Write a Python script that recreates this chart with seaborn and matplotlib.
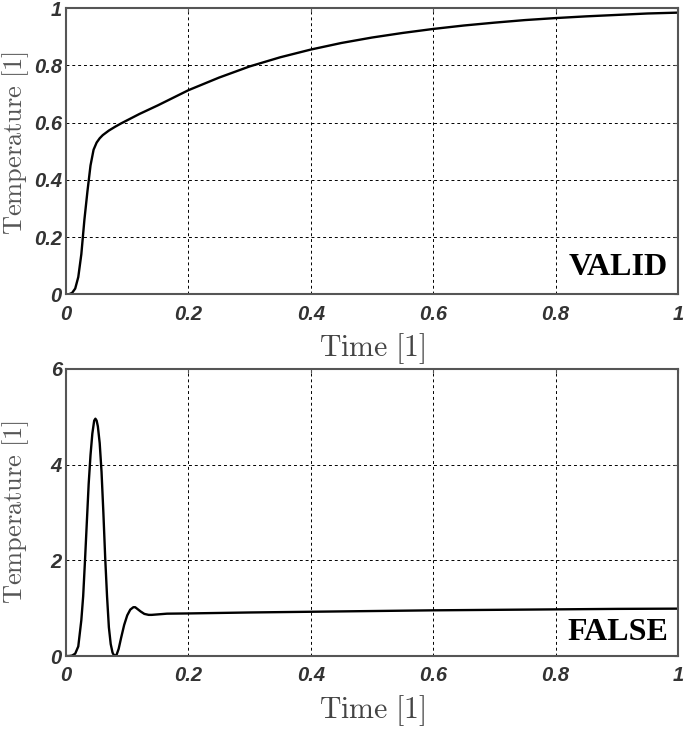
import numpy as np
import pandas as pd
import seaborn as sns
import matplotlib.pyplot as plt

# valores
t_valid = [0, 0.005, 0.01, 0.015, 0.02, 0.025, 0.03, 0.035, 0.04, 0.045, 0.05, 0.055,
           0.06, 0.07, 0.08, 0.09, 0.1, 0.12, 0.15, 0.2, 0.25, 0.3, 0.35, 0.4, 0.45,
           0.5, 0.55, 0.6, 0.65, 0.7, 0.75, 0.8, 0.85, 0.9, 0.95, 1.0]
temp_valid = [0, 0.0, 0.005, 0.02, 0.06, 0.14, 0.26, 0.36, 0.45, 0.505, 0.53, 0.545,
              0.556, 0.572, 0.585, 0.597, 0.608, 0.63, 0.66, 0.713, 0.757, 0.796, 0.828,
              0.855, 0.878, 0.897, 0.913, 0.927, 0.939, 0.949, 0.958, 0.965, 0.971,
              0.976, 0.981, 0.984]

t_false = [0, 0.005, 0.01, 0.015, 0.02, 0.025, 0.028, 0.031, 0.034, 0.037, 0.04, 0.043,
           0.046, 0.048, 0.05, 0.052, 0.055, 0.058, 0.061, 0.064, 0.067, 0.07, 0.073,
           0.076, 0.079, 0.081, 0.083, 0.086, 0.09, 0.095, 0.1, 0.105, 0.11, 0.113,
           0.117, 0.122, 0.128, 0.135, 0.14, 0.15, 0.165, 0.2, 0.3, 0.4, 0.5, 0.6,
           0.7, 0.8, 0.9, 1.0]
temp_false = [0, 0, 0.01, 0.05, 0.2, 0.75, 1.25, 2.0, 2.8, 3.6, 4.2, 4.65, 4.92, 4.96,
              4.92, 4.8, 4.45, 3.85, 3.0, 2.05, 1.25, 0.6, 0.25, 0.07, 0.0, 0.0, 0.04,
              0.15, 0.38, 0.65, 0.85, 0.97, 1.02, 1.02, 0.98, 0.93, 0.88, 0.86, 0.86,
              0.87, 0.885, 0.89, 0.91, 0.925, 0.94, 0.955, 0.965, 0.975, 0.985, 0.99]

x_ticks = [0, 0.2, 0.4, 0.6, 0.8, 1]
x_labels = ["0", "0.2", "0.4", "0.6", "0.8", "1"]
y_ticks_valid = [0, 0.2, 0.4, 0.6, 0.8, 1]
y_labels_valid = ["0", "0.2", "0.4", "0.6", "0.8", "1"]
y_ticks_false = [0, 2, 4, 6]
y_labels_false = ["0", "2", "4", "6"]

sns.set_style("white")
plt.rcParams['mathtext.fontset'] = 'cm'

fig = plt.figure(figsize=(6.85, 7.32), dpi=100)
ax1 = fig.add_axes([0.0964, 0.598, 0.8934, 0.391])
ax2 = fig.add_axes([0.0964, 0.1038, 0.8934, 0.3922])

df_v = pd.DataFrame({"t": t_valid, "T": temp_valid})
df_f = pd.DataFrame({"t": t_false, "T": temp_false})

paineis = [
    (ax1, df_v, y_ticks_valid, y_labels_valid, (0, 1), "VALID", 0.066, 0.53),
    (ax2, df_f, y_ticks_false, y_labels_false, (0, 6), "FALSE", 0.056, 0.5),
]

for ax, df, yt, yl, ylim, rotulo, ypos, ylab_y in paineis:
    sns.lineplot(data=df, x="t", y="T", ax=ax, color="black", linewidth=1.7,
                 sort=False, errorbar=None)
    ax.set_xlim(0, 1)
    ax.set_ylim(*ylim)
    ax.set_xticks(x_ticks)
    ax.set_xticklabels(x_labels, fontsize=14.5, fontweight="bold", fontstyle="italic",
                       family="Liberation Sans", color="#333333")
    ax.set_yticks(yt)
    ax.set_yticklabels(yl, fontsize=14.5, fontweight="bold", fontstyle="italic",
                       family="Liberation Sans", color="#333333")
    ax.grid(True, color="black", linestyle=(0, (3, 3)), linewidth=0.7)
    ax.tick_params(direction="in", length=3, width=0.8, color="#555555",
                   top=True, right=True)
    ax.tick_params(axis="x", pad=7.5)
    ax.tick_params(axis="y", pad=3)
    for s in ax.spines.values():
        s.set_visible(True)
        s.set_color("#555555")
        s.set_linewidth(1.5)
    ax.set_xlabel(r"$\mathrm{Time\ [1]}$", fontsize=21.5, color="#444444")
    ax.set_ylabel(r"$\mathrm{Temperature\ [1]}$", fontsize=19, color="#555555")
    ax.xaxis.set_label_coords(0.5, -0.13)
    ax.yaxis.set_label_coords(-0.057, ylab_y)
    ax.text(0.984, ypos, rotulo, transform=ax.transAxes, ha="right", va="baseline",
            fontsize=23, fontweight="bold", family="Liberation Serif", color="black")

plt.savefig("out.png", dpi=100)
